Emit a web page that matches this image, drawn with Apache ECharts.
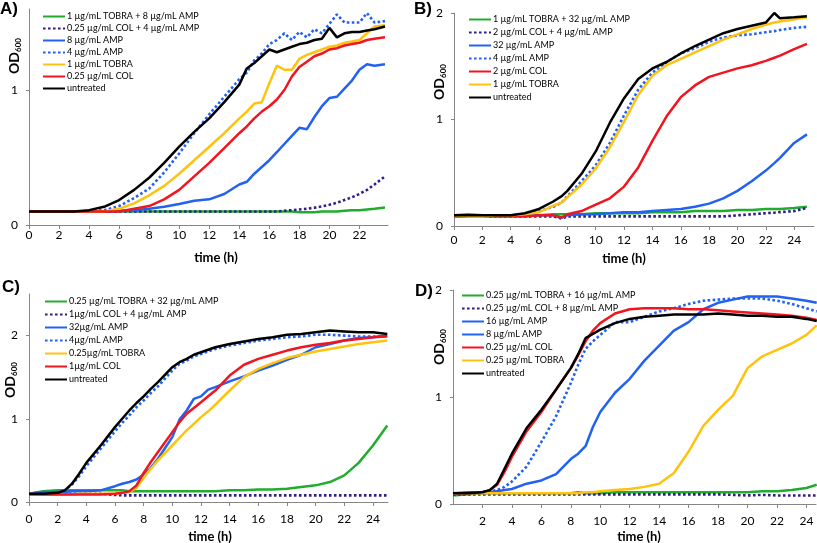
<!DOCTYPE html>
<html><head><meta charset="utf-8">
<script src="https://cdn.jsdelivr.net/npm/echarts@6/dist/echarts.min.js"></script>
<style>html,body{margin:0;padding:0;background:#fff}#c{width:817px;height:543px}</style>
</head><body><div id="c"></div>
<script>
// ---------- Panel A ----------
const timeA = [0,1,2,3,4,5,6,7,8,9,10,11,12,13,14,14.5,15,15.5,16,16.5,17,17.5,18,18.5,19,19.5,20,20.5,21,21.5,22,22.5,23,23.7];
const namesA = ['1 µg/mL TOBRA + 8 µg/mL AMP','0.25 µg/mL COL + 4 µg/mL AMP','8 µg/mL AMP','4 µg/mL AMP','1 µg/mL TOBRA','0.25 µg/mL COL','untreated'];
const A_tobraAmp = [0.1,0.1,0.1,0.1,0.1,0.1,0.1,0.1,0.1,0.1,0.1,0.1,0.1,0.1,0.1,0.1,0.1,0.1,0.1,0.1,0.1,0.1,0.095,0.095,0.095,0.1,0.1,0.1,0.105,0.11,0.11,0.115,0.12,0.13];
const A_colAmp   = [0.1,0.1,0.1,0.1,0.1,0.1,0.1,0.1,0.1,0.1,0.1,0.1,0.1,0.1,0.1,0.1,0.1,0.1,0.1,0.1,0.105,0.11,0.115,0.12,0.128,0.138,0.15,0.165,0.185,0.205,0.23,0.26,0.3,0.36];
const A_amp8     = [0.1,0.1,0.1,0.1,0.1,0.1,0.105,0.11,0.12,0.135,0.155,0.18,0.19,0.23,0.3,0.32,0.38,0.43,0.48,0.54,0.6,0.66,0.72,0.71,0.8,0.88,0.94,0.95,1.01,1.07,1.15,1.19,1.18,1.19];
const A_amp4     = [0.1,0.1,0.1,0.1,0.1,0.11,0.14,0.2,0.27,0.39,0.53,0.68,0.82,0.95,1.08,1.13,1.22,1.27,1.34,1.37,1.42,1.37,1.43,1.39,1.45,1.42,1.49,1.56,1.5,1.5,1.5,1.57,1.5,1.51];
const A_tobra    = [0.1,0.1,0.1,0.1,0.1,0.1,0.12,0.16,0.22,0.29,0.38,0.48,0.58,0.68,0.79,0.84,0.9,0.91,1.05,1.18,1.15,1.15,1.23,1.26,1.28,1.3,1.32,1.33,1.35,1.36,1.37,1.42,1.47,1.48];
const A_col      = [0.1,0.1,0.1,0.1,0.1,0.1,0.1,0.12,0.14,0.19,0.26,0.36,0.46,0.57,0.68,0.73,0.79,0.84,0.88,0.93,1.0,1.1,1.17,1.21,1.25,1.27,1.3,1.31,1.33,1.34,1.35,1.37,1.38,1.39];
const A_untr     = [0.1,0.1,0.1,0.1,0.11,0.135,0.185,0.26,0.35,0.46,0.58,0.69,0.79,0.91,1.04,1.16,1.2,1.25,1.3,1.28,1.3,1.32,1.34,1.35,1.37,1.38,1.46,1.39,1.42,1.43,1.43,1.44,1.45,1.47];

// ---------- Panel B ----------
const timeB = [0,1,2,3,4,5,6,7,7.6,8,9,10,11,12,13,14,15,16,17,18,19,20,21,22,22.6,23,24,24.9];
const namesB = ['1 µg/mL TOBRA + 32 µg/mL AMP','2 µg/mL COL + 4 µg/mL AMP','32 µg/mL AMP','4 µg/mL AMP','2 µg/mL COL','1 µg/mL TOBRA','untreated'];
const B_tobraAmp = [0.1,0.11,0.1,0.1,0.1,0.1,0.1,0.11,0.11,0.11,0.11,0.12,0.12,0.12,0.12,0.13,0.13,0.13,0.14,0.14,0.14,0.15,0.15,0.16,0.16,0.16,0.17,0.18];
const B_colAmp   = [0.1,0.09,0.09,0.09,0.09,0.09,0.09,0.09,0.07,0.09,0.09,0.09,0.09,0.09,0.09,0.09,0.09,0.09,0.09,0.09,0.09,0.1,0.11,0.12,0.125,0.13,0.14,0.17];
const B_amp32    = [0.1,0.1,0.1,0.1,0.1,0.1,0.1,0.1,0.08,0.1,0.11,0.11,0.12,0.13,0.13,0.14,0.15,0.16,0.18,0.21,0.26,0.33,0.42,0.52,0.59,0.64,0.78,0.86];
const B_amp4     = [0.1,0.1,0.1,0.1,0.1,0.11,0.14,0.18,0.22,0.28,0.42,0.57,0.78,1.04,1.28,1.44,1.54,1.62,1.67,1.73,1.77,1.79,1.8,1.82,1.83,1.84,1.86,1.87];
const B_col      = [0.09,0.09,0.09,0.09,0.09,0.09,0.1,0.1,0.08,0.11,0.14,0.2,0.26,0.37,0.55,0.8,1.03,1.21,1.32,1.4,1.44,1.48,1.51,1.55,1.58,1.6,1.66,1.71];
const B_tobra    = [0.1,0.09,0.09,0.1,0.1,0.11,0.13,0.19,0.22,0.27,0.39,0.54,0.74,0.98,1.23,1.41,1.51,1.57,1.63,1.69,1.75,1.8,1.85,1.89,1.91,1.92,1.94,1.96];
const B_untr     = [0.1,0.1,0.1,0.1,0.1,0.12,0.16,0.23,0.28,0.33,0.49,0.7,0.97,1.2,1.38,1.48,1.54,1.62,1.69,1.75,1.81,1.85,1.88,1.91,2.0,1.95,1.96,1.97];

// ---------- Panel C ----------
const timeC = [0,1,2,2.5,3,3.5,4,5,6,6.5,7,7.5,8,8.5,9,10,10.5,11,11.5,12,12.5,13,14,15,16,17,18,19,20,21,22,23,24,25];
const namesC = ['0.25 µg/mL TOBRA + 32 µg/mL AMP','1µg/mL COL + 4 µg/mL AMP','32µg/mL AMP','4µg/mL AMP','0.25µg/mL TOBRA','1µg/mL COL','untreated'];
const C_tobraAmp = [0.1,0.13,0.14,0.14,0.14,0.14,0.14,0.14,0.14,0.14,0.13,0.13,0.13,0.13,0.13,0.13,0.13,0.13,0.13,0.13,0.13,0.13,0.14,0.14,0.15,0.15,0.16,0.18,0.2,0.24,0.32,0.47,0.68,0.92];
const C_colAmp   = [0.1,0.1,0.1,0.1,0.1,0.1,0.1,0.1,0.085,0.08,0.08,0.08,0.08,0.08,0.08,0.08,0.08,0.08,0.08,0.08,0.08,0.08,0.08,0.08,0.08,0.08,0.08,0.08,0.08,0.08,0.08,0.08,0.08,0.08];
const C_amp32    = [0.1,0.12,0.12,0.12,0.13,0.13,0.13,0.14,0.19,0.22,0.24,0.27,0.33,0.41,0.52,0.78,0.99,1.1,1.24,1.27,1.35,1.38,1.45,1.51,1.58,1.64,1.71,1.77,1.86,1.9,1.94,1.97,1.98,1.99];
const C_amp4     = [0.1,0.1,0.11,0.14,0.21,0.31,0.43,0.64,0.85,0.95,1.04,1.14,1.22,1.31,1.39,1.58,1.66,1.7,1.75,1.78,1.81,1.84,1.88,1.91,1.94,1.96,1.98,1.99,2.01,2.01,2.0,1.99,1.99,1.99];
const C_tobra    = [0.1,0.09,0.09,0.09,0.09,0.1,0.1,0.1,0.1,0.11,0.12,0.17,0.29,0.4,0.5,0.68,0.77,0.86,0.94,1.02,1.09,1.17,1.34,1.5,1.6,1.67,1.73,1.77,1.81,1.84,1.87,1.9,1.92,1.94];
const C_col      = [0.09,0.09,0.09,0.09,0.09,0.09,0.09,0.09,0.1,0.11,0.13,0.2,0.35,0.48,0.6,0.84,0.96,1.06,1.13,1.2,1.27,1.34,1.52,1.65,1.72,1.77,1.82,1.86,1.89,1.91,1.94,1.96,1.98,2.0];
const C_untr     = [0.1,0.1,0.11,0.14,0.22,0.34,0.47,0.68,0.9,1.0,1.1,1.19,1.27,1.36,1.44,1.62,1.68,1.72,1.77,1.8,1.83,1.86,1.9,1.93,1.96,1.98,2.01,2.02,2.04,2.06,2.05,2.04,2.04,2.02];

// ---------- Panel D ----------
const timeD = [0,1,2,2.5,3,3.5,4,5,6,7,8,8.5,9,9.5,10,11,12,13,14,15,16,17,18,19,20,21,22,23,24,24.7];
const namesD = ['0.25 µg/mL TOBRA + 16 µg/mL AMP','0.25 µg/mL COL + 8 µg/mL AMP','16 µg/mL AMP','8 µg/mL AMP','0.25 µg/mL COL','0.25 µg/mL TOBRA','untreated'];
const D_tobraAmp = [0.08,0.09,0.1,0.1,0.1,0.1,0.1,0.1,0.1,0.1,0.1,0.11,0.1,0.1,0.1,0.11,0.11,0.11,0.11,0.11,0.11,0.11,0.11,0.11,0.11,0.12,0.12,0.13,0.15,0.18];
const D_colAmp   = [0.09,0.09,0.09,0.09,0.09,0.09,0.09,0.09,0.09,0.09,0.09,0.09,0.09,0.09,0.09,0.09,0.09,0.09,0.09,0.09,0.09,0.09,0.09,0.085,0.08,0.085,0.08,0.08,0.08,0.08];
const D_amp16    = [0.1,0.11,0.11,0.11,0.12,0.13,0.14,0.19,0.22,0.28,0.42,0.47,0.54,0.72,0.86,1.04,1.17,1.34,1.48,1.62,1.7,1.82,1.88,1.91,1.94,1.94,1.94,1.92,1.9,1.88];
const D_amp8     = [0.1,0.1,0.11,0.12,0.13,0.16,0.21,0.35,0.58,0.82,1.13,1.3,1.45,1.52,1.58,1.7,1.7,1.75,1.8,1.83,1.87,1.9,1.91,1.92,1.92,1.92,1.9,1.87,1.83,1.8];
const D_col      = [0.1,0.1,0.11,0.13,0.18,0.3,0.44,0.68,0.86,1.07,1.27,1.39,1.52,1.62,1.69,1.78,1.82,1.83,1.83,1.83,1.82,1.82,1.81,1.8,1.79,1.78,1.77,1.76,1.74,1.72];
const D_tobra    = [0.1,0.1,0.1,0.1,0.1,0.1,0.1,0.1,0.1,0.1,0.1,0.1,0.11,0.11,0.12,0.13,0.14,0.16,0.19,0.29,0.49,0.73,0.88,1.01,1.27,1.38,1.44,1.5,1.58,1.67];
const D_untr     = [0.1,0.1,0.11,0.13,0.19,0.33,0.47,0.71,0.88,1.07,1.27,1.4,1.55,1.59,1.63,1.69,1.73,1.75,1.76,1.77,1.77,1.77,1.78,1.77,1.76,1.76,1.75,1.75,1.73,1.71];

// ---------- Axis ticks ----------
const xTicksA = [0,2,4,6,8,10,12,14,16,18,20,22];
const xTicksB = [0,2,4,6,8,10,12,14,16,18,20,22,24];
const xTicksC = [0,2,4,6,8,10,12,14,16,18,20,22,24];
const xTicksD = [2,4,6,8,10,12,14,16,18,20,22,24];
const yTicksA = [0,1];
const yTicksB = [0,1,2];
const yTicksC = [0,1,2];
const yTicksD = [0,1,2];

const GREEN='#22ac2e', NAVY='#2f1f8a', BLUE='#2262f2', YEL='#ffc20e', RED='#f2151f', BLACK='#000000';
const FONT = 'Lato, "Open Sans", sans-serif';

function mk(name, t, vals, gi, color, dotted) {
  return {
    type:'line', name, xAxisIndex:gi, yAxisIndex:gi, symbol:'none', animation:false,
    data: t.map((x,i)=>[x, vals[i]]),
    lineStyle:{color, width: dotted?2.6:2.5, type: dotted?[2.6,2.4]:'solid'},
    itemStyle:{color}
  };
}
const styleA = [[GREEN,false],[NAVY,true],[BLUE,false],[BLUE,true],[YEL,false],[RED,false],[BLACK,false]];
const styleB = [[GREEN,false],[NAVY,true],[BLUE,false],[BLUE,true],[RED,false],[YEL,false],[BLACK,false]];
const styleC = [[GREEN,false],[NAVY,true],[BLUE,false],[BLUE,true],[YEL,false],[RED,false],[BLACK,false]];
const styleD = [[GREEN,false],[NAVY,true],[BLUE,false],[BLUE,true],[RED,false],[YEL,false],[BLACK,false]];

const series = [];
[[namesA,timeA,[A_tobraAmp,A_colAmp,A_amp8,A_amp4,A_tobra,A_col,A_untr],styleA,0],
 [namesB,timeB,[B_tobraAmp,B_colAmp,B_amp32,B_amp4,B_col,B_tobra,B_untr],styleB,1],
 [namesC,timeC,[C_tobraAmp,C_colAmp,C_amp32,C_amp4,C_tobra,C_col,C_untr],styleC,2],
 [namesD,timeD,[D_tobraAmp,D_colAmp,D_amp16,D_amp8,D_col,D_tobra,D_untr],styleD,3]
].forEach(([names,t,vals,st,gi])=>{
  names.forEach((n,i)=>series.push(mk(n,t,vals[i],gi,st[i][0],st[i][1])));
});

const grids = [
  {left:29, top:9, width:359, height:216},
  {left:454, top:13, width:360, height:213},
  {left:29, top:294, width:359, height:208},
  {left:453, top:290, width:363, height:214}
].map(g=>Object.assign({outerBoundsMode:'none', containLabel:false}, g));

const xMax = [23.9, 25.4, 25.05, 24.65];
const xTicks = [xTicksA,xTicksB,xTicksC,xTicksD];
const xMargin = [4, 8, 11, 11];
const yMax = [1.6, 2, 2.5, 2];
const yTicks = [yTicksA,yTicksB,yTicksC,yTicksD];
const axisColor = '#868686';

const xAxis = [0,1,2,3].map(i=>({
  type:'value', gridIndex:i, min:0, max:xMax[i],
  axisLine:{show:true, onZero:false, lineStyle:{color:axisColor, width:1}},
  axisTick:{show:true, length:4, customValues:xTicks[i], lineStyle:{color:axisColor}},
  axisLabel:{customValues:xTicks[i], color:'#000', fontSize:12, fontFamily:FONT, margin:xMargin[i]},
  splitLine:{show:false}
}));
const yAxis = [0,1,2,3].map(i=>({
  type:'value', gridIndex:i, min:0, max:yMax[i],
  axisLine:{show:true, lineStyle:{color:axisColor, width:1}},
  axisTick:{show:true, length:3, customValues:yTicks[i], lineStyle:{color:axisColor}},
  axisLabel:{customValues:yTicks[i], color:'#000', fontSize:12, fontFamily:FONT, margin:11},
  splitLine:{show:false}
}));

const legendBase = {orient:'vertical', itemWidth:22, itemHeight:10, itemGap:4,
  itemStyle:{opacity:0},
  textStyle:{fontSize:9, fontFamily:FONT, color:'#000', padding:[0,0,0,-3]}, selectedMode:false, padding:0};
const legend = [
  Object.assign({}, legendBase, {left:42, top:12, itemGap:3, data:namesA}),
  Object.assign({}, legendBase, {left:468, top:15, data:namesB}),
  Object.assign({}, legendBase, {left:44, top:297, data:namesC}),
  Object.assign({}, legendBase, {left:461, top:291, data:namesD})
];

function odTitle(x, y) {
  return {type:'text', x, y, rotation:Math.PI/2, silent:true,
    style:{text:'{a|OD}{b|600}', align:'center', verticalAlign:'middle',
      rich:{a:{fontSize:14, fontWeight:'bold', fontFamily:FONT, lineHeight:15, verticalAlign:'top'},
            b:{fontSize:8, fontWeight:'bold', fontFamily:FONT, lineHeight:8, padding:[8,0,0,0], verticalAlign:'bottom'}},
      fill:'#000'}};
}
function timeTitle(x, y) {
  return {type:'text', x, y, silent:true, style:{text:'time (h)', align:'center', verticalAlign:'middle', font:'bold 13px '+FONT, fill:'#000'}};
}
function panelLabel(txt, x, y) {
  return {type:'text', x, y, silent:true, style:{text:txt, align:'left', verticalAlign:'top', font:'bold 17px "Liberation Sans", Arial, sans-serif', fill:'#000'}};
}
const graphic = [
  panelLabel('A)', 0, 1), panelLabel('B)', 414, 1), panelLabel('C)', 2, 279), panelLabel('D)', 415, 283),
  odTitle(15, 56), odTitle(440, 82), odTitle(11, 380), odTitle(440, 347),
  timeTitle(216, 258), timeTitle(624, 259), timeTitle(210, 537), timeTitle(639, 537)
];

const chart = echarts.init(document.getElementById('c'), null, {renderer:'canvas'});
chart.setOption({animation:false, backgroundColor:'#fff', grid:grids, xAxis, yAxis, legend, series, graphic});
</script></body></html>
